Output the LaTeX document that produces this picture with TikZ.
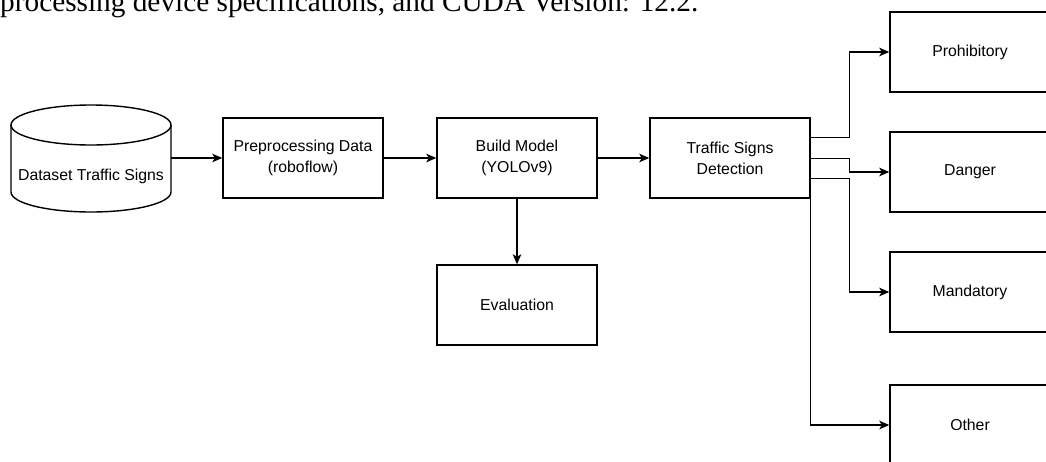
\documentclass[tikz,border=0pt]{standalone}
\usepackage{fontspec}
\setmainfont{Liberation Sans}
\newfontfamily\serifa{Liberation Serif}
\usetikzlibrary{arrows.meta,calc}
\begin{document}
\begin{tikzpicture}[x=1pt,y=-1pt,
  stepbox/.style={draw=black, line width=1.4pt, minimum width=160pt, minimum height=80pt,
    inner sep=0pt, align=center, font=\fontsize{15.8}{21}\selectfont},
  arr/.style={draw=black, line width=1.4pt, -{Stealth[length=10pt,width=8.5pt,inset=2.5pt]}},
  lbl/.style={font=\fontsize{15.8}{21}\selectfont, inner sep=0pt}]
\useasboundingbox (0,0) rectangle (1046,461);
% top cut-off text
\node[anchor=base west, inner sep=0pt, font=\serifa\fontsize{29.3}{34}\selectfont] (toptext) at (0,11)
  {processing device specifications, and CUDA Version: 12.2.};
% cylinder
\draw[line width=1.4pt, fill=white] (11,125) -- (11,192) arc[start angle=180, end angle=0, x radius=80, y radius=20] -- (171,125);
\draw[line width=1.4pt] (91,125) ellipse[x radius=80, y radius=20];
\node[lbl] (ds) at (91,176) {Dataset Traffic Signs};
\coordinate (dsE) at (171,158);
% boxes
\node[stepbox] (pre) at (303,158) {Preprocessing Data\\(roboflow)};
\node[stepbox] (build) at (517,158) {Build Model\\(YOLOv9)};
\node[stepbox] (tsd) at (730,158) {Traffic Signs\\Detection};
\node[stepbox] (eval) at (517,305) {Evaluation};
\node[stepbox] (pro) at (970,52) {Prohibitory};
\node[stepbox] (dan) at (970,172) {Danger};
\node[stepbox] (man) at (970,292) {Mandatory};
\node[stepbox] (oth) at (970,425) {Other};
% connectors
\draw[arr] (dsE) -- (pre.west);
\draw[arr] (pre) -- (build);
\draw[arr] (build) -- (tsd);
\draw[arr] (build) -- (eval);
\draw[arr] ($(tsd.north east)+(0,20)$) -| ($(pro.west)+(-40,0)$) -- (pro.west);
\draw[arr] ($(tsd.north east)+(0,41)$) -| ($(dan.west)+(-40,0)$) -- (dan.west);
\draw[arr] ($(tsd.north east)+(0,61)$) -| ($(man.west)+(-40,0)$) -- (man.west);
\draw[arr] (tsd.south east) |- (oth.west);
\end{tikzpicture}
\end{document}
